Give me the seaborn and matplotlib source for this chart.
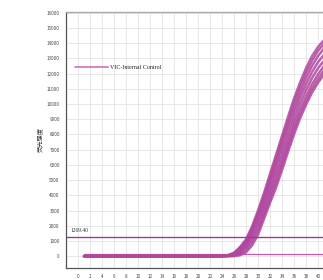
import numpy as np
import pandas as pd
import matplotlib
matplotlib.use("Agg")
import matplotlib.pyplot as plt
import seaborn as sns

# ---------------- data ----------------
cycles = list(range(1, 42))
flat_start = [0] * 21  # cycles 1..21 (flat at 0)
curve_1 = flat_start + [0, 0, 0, 60, 220, 600, 1100, 1950, 3000, 4150, 5400, 6650, 7900, 9150, 10350, 11400, 12350, 13150, 13750, 14200]
curve_2 = flat_start + [0, 0, 0, 50, 190, 530, 1000, 1800, 2800, 3950, 5150, 6400, 7650, 8850, 10050, 11100, 12050, 12850, 13500, 13950]
curve_3 = flat_start + [0, 0, 0, 40, 160, 460, 900, 1650, 2600, 3700, 4900, 6100, 7350, 8550, 9700, 10750, 11700, 12500, 13150, 13650]
curve_4 = flat_start + [0, 0, 0, 30, 130, 390, 800, 1500, 2400, 3450, 4600, 5800, 7000, 8200, 9350, 10400, 11300, 12100, 12750, 13250]
curve_5 = flat_start + [0, 0, 0, 20, 100, 310, 680, 1320, 2150, 3200, 4300, 5450, 6600, 7800, 8950, 10000, 10900, 11700, 12350, 12850]
curve_6 = flat_start + [0, 0, 0, 10, 60, 220, 550, 1120, 1900, 2950, 4000, 5100, 6250, 7450, 8600, 9600, 10500, 11300, 11950, 12500]
curve_7 = flat_start + [0, 0, 0, 0, 30, 140, 400, 920, 1650, 2700, 3750, 4800, 5950, 7150, 8300, 9300, 10200, 11000, 11650, 12200]
curve_8 = flat_start + [0, 0, 0, 0, 0, 60, 250, 700, 1400, 2450, 3500, 4500, 5650, 6850, 8000, 9050, 9950, 10750, 11400, 11950]
negative_curve = [120] * 41
curves = [curve_1, curve_2, curve_3, curve_4, curve_5, curve_6, curve_7, curve_8]

threshold_value = 1269.40
threshold_label = "1269.40"
legend_label = "VIC-Internal Control"
y_label = "荧光强度"
x_ticks = list(range(0, 41, 2))
y_ticks = list(range(0, 16001, 1000))

# ---------------- build long table ----------------
rows = []
for i, c in enumerate(curves):
    for x, y in zip(cycles, c):
        rows.append({"cycle": x, "rfu": y, "well": f"w{i}"})
df = pd.DataFrame(rows)
df_neg = pd.DataFrame({"cycle": cycles, "rfu": negative_curve})

# ---------------- figure ----------------
sns.set_style("white")
plt.rcParams["font.family"] = ["Noto Sans CJK SC", "DejaVu Sans"]

fig = plt.figure(figsize=(3.23, 2.80), dpi=100)
ax = fig.add_axes([66 / 323, 1 - 268 / 280, 264 / 323, 256 / 280])

curve_color = "#B0469E"
sns.lineplot(data=df_neg, x="cycle", y="rfu", ax=ax, color="#C35AAE",
             linewidth=0.9, legend=False)
sns.lineplot(data=df, x="cycle", y="rfu", units="well", estimator=None, ax=ax,
             color=curve_color, linewidth=1.8, alpha=0.85, legend=False)

# threshold
ax.axhline(threshold_value, color="#9C3A8E", linewidth=1.0)
ax.text(-1.3, threshold_value + 220, threshold_label, fontsize=4.0,
        family="Liberation Serif", color="#333333", va="bottom", ha="left")

# legend entry
ax.plot([], [], color="#D17CC0", linewidth=1.3, label=legend_label)
ax.legend(loc="upper left", bbox_to_anchor=(0.025, 0.803), frameon=False,
          prop={"family": "Liberation Serif", "size": 4.3},
          handlelength=5.5, handletextpad=0.3, borderaxespad=0)

ax.set_xlim(-2, 42)
ax.set_ylim(-780, 16050)
ax.set_xticks(x_ticks)
ax.set_yticks(y_ticks)
ax.set_yticklabels([str(v) for v in y_ticks])
ax.tick_params(axis="both", labelsize=3.3, colors="#444444", length=3,
               width=0.5, direction="out", pad=1.5)
ax.tick_params(axis="x", pad=1.0)
ax.grid(True, color="#E3E3E3", linewidth=0.6)
ax.set_axisbelow(True)

for s in ["left", "bottom"]:
    ax.spines[s].set_color("#555555")
    ax.spines[s].set_linewidth(0.9)
ax.spines["top"].set_color("#AAAAAA")
ax.spines["top"].set_linewidth(1.0)
ax.spines["right"].set_visible(False)

ax.set_xlabel("")
ax.set_ylabel(y_label, fontsize=4.5, color="#333333", labelpad=2)

fig.savefig("out.png", dpi=100)
